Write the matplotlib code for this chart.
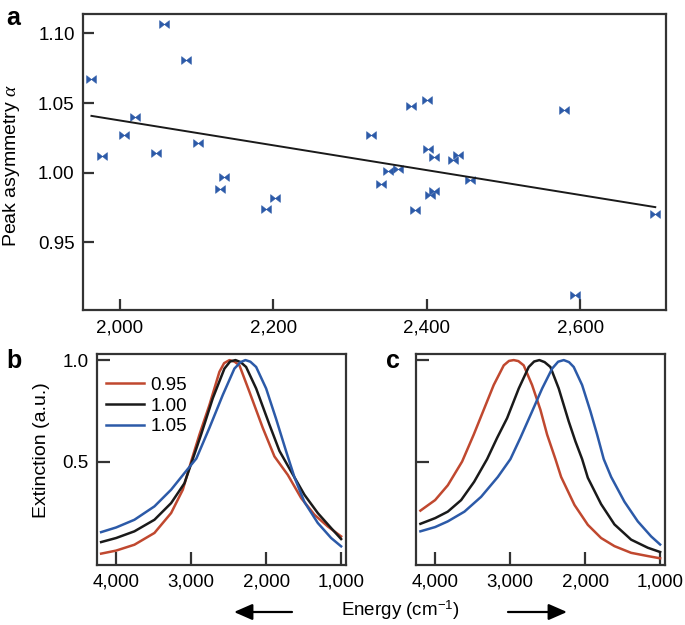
import numpy as np
import matplotlib
matplotlib.use("Agg")
import matplotlib.pyplot as plt
from matplotlib.path import Path
from matplotlib.patches import FancyArrowPatch

plt.rcParams["font.family"] = ["Liberation Sans", "DejaVu Sans"]
plt.rcParams["mathtext.fontset"] = "custom"
plt.rcParams["mathtext.rm"] = "Liberation Sans"
plt.rcParams["mathtext.it"] = "Liberation Serif:italic"

# panel a: peak energy (cm-1) vs asymmetry
energy = [1963, 1977, 2006, 2020, 2047, 2058, 2086, 2102, 2130, 2136, 2191, 2202,
          2327, 2341, 2350, 2363, 2379, 2385, 2400, 2402, 2405, 2409, 2410, 2434,
          2441, 2457, 2579, 2594, 2698]
alpha = [1.067, 1.012, 1.027, 1.040, 1.014, 1.107, 1.081, 1.021, 0.988, 0.997, 0.974, 0.982,
         1.027, 0.992, 1.001, 1.003, 1.048, 0.973, 1.052, 1.017, 0.984, 0.987, 1.011, 1.009,
         1.013, 0.995, 1.045, 0.912, 0.970]

# panel b: same peak, different asymmetry
b_red_x = [4200, 4000, 3756, 3489, 3267, 3111, 3000, 2889, 2756, 2623, 2560, 2489, 2420,
           2356, 2223, 2045, 1889, 1711, 1533, 1356, 1178, 1000]
b_red_y = [0.046, 0.061, 0.090, 0.148, 0.246, 0.361, 0.500, 0.633, 0.779, 0.942, 0.985, 1.000,
           0.992, 0.974, 0.844, 0.666, 0.525, 0.434, 0.320, 0.238, 0.180, 0.131]
b_black_x = [4200, 4000, 3756, 3489, 3267, 3089, 2978, 2867, 2711, 2556, 2480, 2409, 2340,
             2267, 2133, 1956, 1822, 1667, 1489, 1311, 1133, 1000]
b_black_y = [0.103, 0.123, 0.156, 0.213, 0.295, 0.393, 0.512, 0.633, 0.812, 0.958, 0.993, 1.000,
             0.990, 0.966, 0.860, 0.682, 0.552, 0.451, 0.336, 0.246, 0.172, 0.118]
b_blue_x = [4200, 4000, 3756, 3489, 3267, 3089, 2930, 2756, 2578, 2423, 2340, 2276, 2210,
            2133, 2000, 1867, 1733, 1620, 1489, 1311, 1133, 1000]
b_blue_y = [0.152, 0.175, 0.213, 0.279, 0.361, 0.443, 0.515, 0.666, 0.828, 0.958, 0.990, 1.000,
            0.992, 0.966, 0.860, 0.710, 0.550, 0.420, 0.300, 0.197, 0.123, 0.082]

# panel c: same asymmetry, shifted peak
c_red_x = [4196, 4000, 3831, 3640, 3485, 3352, 3219, 3085, 3015, 2952, 2890, 2819, 2707,
           2596, 2507, 2396, 2320, 2142, 1964, 1787, 1609, 1387, 1164, 1000]
c_red_y = [0.258, 0.310, 0.383, 0.500, 0.633, 0.755, 0.877, 0.974, 0.996, 1.000, 0.995, 0.974,
           0.877, 0.755, 0.633, 0.512, 0.424, 0.286, 0.188, 0.123, 0.083, 0.050, 0.034, 0.023]
c_black_x = [4196, 4000, 3831, 3653, 3480, 3307, 3173, 3040, 2885, 2752, 2680, 2610, 2540,
             2463, 2352, 2219, 2130, 2040, 1964, 1787, 1609, 1387, 1164, 1000]
c_black_y = [0.193, 0.221, 0.253, 0.310, 0.400, 0.512, 0.617, 0.714, 0.860, 0.966, 0.993, 1.000,
             0.990, 0.966, 0.860, 0.698, 0.600, 0.512, 0.420, 0.290, 0.190, 0.115, 0.075, 0.054]
c_blue_x = [4196, 4000, 3831, 3609, 3387, 3164, 2996, 2863, 2707, 2573, 2440, 2360, 2285,
            2215, 2152, 2040, 1929, 1840, 1752, 1653, 1476, 1298, 1120, 1000]
c_blue_y = [0.156, 0.177, 0.205, 0.253, 0.326, 0.424, 0.512, 0.617, 0.747, 0.860, 0.958, 0.992,
            1.000, 0.990, 0.966, 0.877, 0.747, 0.633, 0.512, 0.424, 0.302, 0.205, 0.131, 0.091]

legend_labels = ["0.95", "1.00", "1.05"]
col_red = "#c0482f"
col_black = "#1a1a1a"
col_blue = "#2c5aa8"
spine_col = "#333333"

fig = plt.figure(figsize=(6.85, 6.25), dpi=100)
W, H = 685.0, 625.0


def box(l, t, r, b):
    return [l / W, 1 - b / H, (r - l) / W, (b - t) / H]


def style(ax, ticklen):
    for s in ax.spines.values():
        s.set_linewidth(1.6)
        s.set_color(spine_col)
    ax.tick_params(direction="in", length=ticklen, width=1.6, color=spine_col,
                   labelsize=13.5, pad=6)


# bowtie marker
bowtie = Path([(-1, -0.8), (-1, 0.8), (0, 0), (1, 0.8), (1, -0.8), (0, 0), (-1, -0.8)],
              [Path.MOVETO, Path.LINETO, Path.LINETO, Path.LINETO, Path.LINETO, Path.LINETO,
               Path.CLOSEPOLY])

# ---- panel a
ax_a = fig.add_axes(box(83, 14, 666, 310))
ax_a.plot(energy, alpha, linestyle="none", marker=bowtie, markersize=7,
          color=col_blue, markeredgewidth=0.4, markeredgecolor=col_blue)
k, c0 = np.polyfit(energy, alpha, 1)
xf = np.array([min(energy), max(energy)])
ax_a.plot(xf, k * xf + c0, color=col_black, lw=1.4)
ax_a.set_xlim(1952, 2712)
ax_a.set_ylim(0.9014, 1.114)
ax_a.set_xticks([2000, 2200, 2400, 2600])
ax_a.set_xticklabels(["2,000", "2,200", "2,400", "2,600"])
ax_a.set_yticks([0.95, 1.00, 1.05, 1.10])
ax_a.set_yticklabels(["0.95", "1.00", "1.05", "1.10"])
style(ax_a, 8)
ax_a.tick_params(axis="x", pad=7)

# ---- panel b
ax_b = fig.add_axes(box(97, 354, 346, 565))
ax_b.plot(b_red_x, b_red_y, color=col_red, lw=1.8, label=legend_labels[0])
ax_b.plot(b_black_x, b_black_y, color=col_black, lw=1.8, label=legend_labels[1])
ax_b.plot(b_blue_x, b_blue_y, color=col_blue, lw=1.8, label=legend_labels[2])
ax_b.legend(loc="upper left", bbox_to_anchor=(-0.015, 0.955), frameon=False, fontsize=13.5,
            handlelength=2.0, handletextpad=0.35, labelspacing=0.2, borderaxespad=0.3)

# ---- panel c
ax_c = fig.add_axes(box(416, 354, 665, 565))
ax_c.plot(c_red_x, c_red_y, color=col_red, lw=1.8)
ax_c.plot(c_black_x, c_black_y, color=col_black, lw=1.8)
ax_c.plot(c_blue_x, c_blue_y, color=col_blue, lw=1.8)

for ax in (ax_b, ax_c):
    ax.set_xlim(4255, 935)
    ax.set_ylim(-0.01, 1.03)
    ax.set_xticks([4000, 3000, 2000, 1000])
    ax.set_xticklabels(["4,000", "3,000", "2,000", "1,000"])
    ax.set_yticks([0.5, 1.0])
    style(ax, 9.5)
ax_b.set_yticklabels(["0.5", "1.0"])
ax_c.set_yticklabels([])

# labels
fig.text(12 / W, 1 - 165 / H, r"Peak asymmetry $\alpha$", rotation=90, ha="center",
         va="center", fontsize=14)
fig.text(42 / W, 1 - 450 / H, "Extinction (a.u.)", rotation=90, ha="center",
         va="center", fontsize=14)
fig.text(400 / W, 1 - 610 / H, r"Energy (cm$^{-1}$)", ha="center", va="center", fontsize=13.5)

fig.text(6 / W, 1 - 25 / H, "a", fontweight="bold", fontsize=18)
fig.text(6 / W, 1 - 368 / H, "b", fontweight="bold", fontsize=18)
fig.text(386 / W, 1 - 368 / H, "c", fontweight="bold", fontsize=18)

arrow = dict(arrowstyle="-|>,head_length=0.8,head_width=0.35", color="black", lw=1.6,
             shrinkA=0, shrinkB=0, mutation_scale=14, transform=fig.transFigure)
fig.add_artist(FancyArrowPatch((292 / W, 1 - 612 / H), (234 / W, 1 - 612 / H), **arrow))
fig.add_artist(FancyArrowPatch((508 / W, 1 - 612 / H), (567 / W, 1 - 612 / H), **arrow))

fig.savefig("out.png", dpi=100)
